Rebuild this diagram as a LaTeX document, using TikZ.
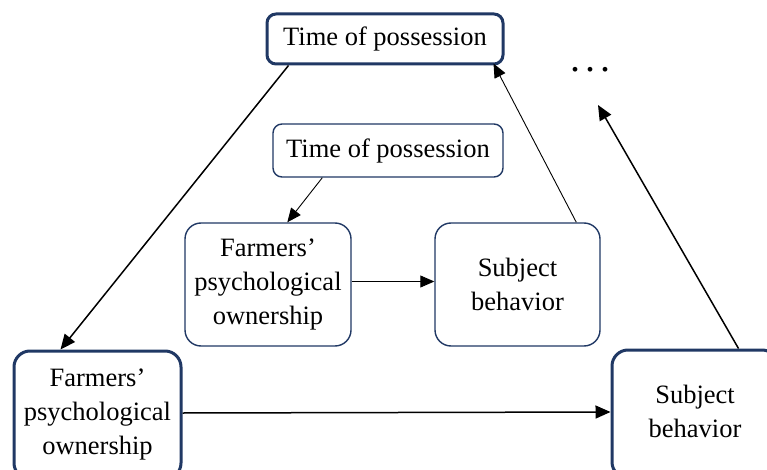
\documentclass[tikz,border=0pt]{standalone}
\usepackage{fontspec}
\setmainfont{Liberation Serif}
\usetikzlibrary{arrows.meta}
\definecolor{navy}{HTML}{203864}
\tikzset{
  box/.style={draw=navy, rounded corners=9pt, fill=white, align=center,
    font=\fontsize{26.5}{34}\selectfont, inner sep=0pt},
  thickbox/.style={box, line width=3pt},
  thinbox/.style={box, line width=1.4pt},
  bigarrow/.style={line width=1.5pt, -{Triangle[length=15pt,width=13pt]}},
  smallarrow/.style={line width=0.9pt, -{Triangle[length=14pt,width=12pt]}},
}
\begin{document}
\begin{tikzpicture}[x=1pt,y=-1pt]
\useasboundingbox (0,0) rectangle (767,470);
\node[thickbox, minimum width=236pt, minimum height=50pt] (top) at (385,39) {Time of possession};
\node[thinbox, minimum width=230pt, minimum height=53pt] (itop) at (388,150.5) {Time of possession};
\node[thinbox, rounded corners=16pt, minimum width=166pt, minimum height=123pt] (ifpo) at (268,284.5) {Farmers’\\psychological\\ownership};
\node[thinbox, rounded corners=16pt, minimum width=165pt, minimum height=123pt] (isb) at (517.5,284.5) {Subject\\behavior};
\node[thickbox, rounded corners=16pt, minimum width=167pt, minimum height=128pt] (ofpo) at (97.5,415) {Farmers’\\psychological\\ownership};
\node[thickbox, rounded corners=16pt, minimum width=166pt, minimum height=128pt] (osb) at (695,414) {\raisebox{12pt}{\begin{tabular}{@{}c@{}}Subject\\behavior\end{tabular}}};
\node[font=\fontsize{40}{40}\selectfont, inner sep=0pt] (dots) at (590,70) {.\hspace{5pt}.\hspace{5pt}.};
\coordinate (tip) at (598,105);
\draw[bigarrow] ([xshift=23pt]top.south west) -- ([xshift=48pt]ofpo.north west);
\draw[bigarrow] ([xshift=128pt]osb.north west) -- (tip);
\draw[bigarrow] ([yshift=2pt]ofpo.east) -- ([yshift=2pt]osb.west);
\draw[smallarrow] ([xshift=142pt]isb.north west) -- ([xshift=-11pt,yshift=2pt]top.south east);
\draw[smallarrow] ([xshift=50pt]itop.south west) -- ([xshift=103pt]ifpo.north west);
\draw[smallarrow] ([yshift=3pt]ifpo.east) -- ([yshift=3pt]isb.west);
\end{tikzpicture}
\end{document}
